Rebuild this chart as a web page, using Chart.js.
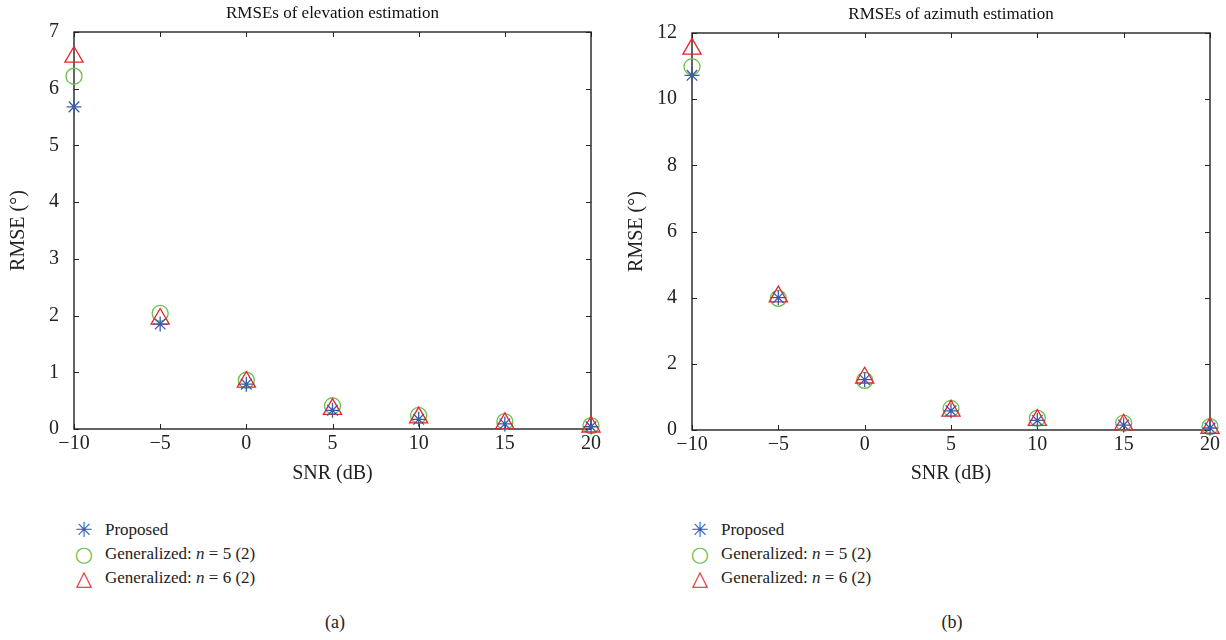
<!DOCTYPE html>
<html>
<head>
<meta charset="utf-8">
<script src="https://cdn.jsdelivr.net/npm/chart.js@4.4.1/dist/chart.umd.min.js"></script>
<style>
  body { margin: 0; width: 1226px; height: 640px; background: #fff; position: relative; overflow: hidden;
         font-family: 'Liberation Serif', 'DejaVu Serif', serif; color: #222; }
  .panel { position: absolute; top: 0; width: 613px; height: 500px; }
  .legend { position: absolute; top: 518px; font-size: 17px; }
  .legend div { height: 24px; line-height: 24px; white-space: nowrap; }
  .mk { display: inline-block; width: 20px; text-align: center; margin-right: 11px; font-size: 21px;
        vertical-align: top; font-family: 'DejaVu Sans', sans-serif; }
  .cap { position: absolute; top: 612px; font-size: 18px; width: 40px; text-align: center; }
</style>
</head>
<body>
<div class="panel" style="left:0"><canvas id="elevChart" width="613" height="500"></canvas></div>
<div class="panel" style="left:613px"><canvas id="azimChart" width="613" height="500"></canvas></div>

<div class="legend" style="left:74px" id="legendA"></div>
<div class="legend" style="left:690px" id="legendB"></div>
<div class="cap" style="left:315px">(a)</div>
<div class="cap" style="left:932px">(b)</div>

<script>
// SNR values (dB) on the x axis
const snr = [-10, -5, 0, 5, 10, 15, 20];
const xTickLabels = ['\u221210', '\u22125', '0', '5', '10', '15', '20'];

// elevation RMSE (deg)
const proposedElev = [5.68, 1.85, 0.79, 0.33, 0.17, 0.09, 0.04];
const gen5Elev     = [6.22, 2.04, 0.86, 0.41, 0.24, 0.13, 0.06];
const gen6Elev     = [6.56, 1.94, 0.83, 0.35, 0.20, 0.10, 0.04];
const elevTicks = [0, 1, 2, 3, 4, 5, 6, 7];

// azimuth RMSE (deg)
const proposedAzim = [10.72, 4.00, 1.52, 0.58, 0.29, 0.15, 0.06];
const gen5Azim     = [10.98, 3.98, 1.50, 0.65, 0.36, 0.21, 0.10];
const gen6Azim     = [11.52, 4.03, 1.58, 0.58, 0.30, 0.16, 0.06];
const azimTicks = [0, 2, 4, 6, 8, 10, 12];

const seriesNames = ['Proposed', 'Generalized: <i>n</i> = 5 (2)', 'Generalized: <i>n</i> = 6 (2)'];
const colors = ['#3b5aa8', '#6abf4b', '#e8262d'];
const FONT = "'Liberation Serif', 'DejaVu Serif', serif";

// box with inward ticks on all four sides, like the original figure
const framePlugin = {
  id: 'frame',
  beforeDatasetsDraw(chart) {
    const { ctx, chartArea: a, scales: { x, y } } = chart;
    ctx.save();
    ctx.strokeStyle = '#222';
    ctx.lineWidth = 1.4;
    ctx.strokeRect(a.left, a.top, a.right - a.left, a.bottom - a.top);
    ctx.lineWidth = 1;
    ctx.beginPath();
    x.ticks.forEach((t, i) => {
      const px = Math.round(x.getPixelForTick(i)) + 0.5;
      ctx.moveTo(px, a.bottom); ctx.lineTo(px, a.bottom - 5);
      ctx.moveTo(px, a.top); ctx.lineTo(px, a.top + 5);
    });
    y.ticks.forEach((t, i) => {
      const py = Math.round(y.getPixelForTick(i)) + 0.5;
      ctx.moveTo(a.left, py); ctx.lineTo(a.left + 5, py);
      ctx.moveTo(a.right, py); ctx.lineTo(a.right - 5, py);
    });
    ctx.stroke();
    ctx.restore();
  }
};

function points(vals) {
  return snr.map((s, i) => ({ x: s, y: vals[i] }));
}

function makeChart(id, title, series, yTicks, opts) {
  const styles = [
    { pointStyle: 'star', pointRadius: 7.5, order: 0 },
    { pointStyle: 'circle', pointRadius: 8, order: 2 },
    { pointStyle: 'triangle', pointRadius: 10.5, order: 1 }
  ];
  return new Chart(document.getElementById(id), {
    type: 'scatter',
    data: {
      datasets: series.map((vals, i) => ({
        label: seriesNames[i].replace(/<[^>]+>/g, ''),
        data: points(vals),
        pointStyle: styles[i].pointStyle,
        pointRadius: styles[i].pointRadius,
        pointHoverRadius: styles[i].pointRadius,
        order: styles[i].order,
        borderColor: colors[i],
        backgroundColor: 'rgba(0,0,0,0)',
        borderWidth: 1.3,
        showLine: false,
        clip: false
      }))
    },
    options: {
      responsive: false,
      animation: false,
      devicePixelRatio: 1,
      layout: { padding: { left: 0, right: opts.padRight, top: 0, bottom: 0 } },
      plugins: {
        legend: { display: false },
        tooltip: { enabled: false },
        title: {
          display: true, text: title, fullSize: false, color: '#111',
          font: { family: FONT, size: 17, weight: 'normal' },
          padding: { top: opts.titleTop, bottom: 8.6 }
        }
      },
      scales: {
        x: {
          type: 'linear', min: snr[0], max: snr[snr.length - 1],
          grid: { display: false, drawTicks: false },
          border: { display: false },
          ticks: {
            stepSize: 5, padding: 3, color: '#222', maxRotation: 0,
            font: { family: FONT, size: 20 },
            callback: (v, i) => xTickLabels[i]
          },
          title: {
            display: true, text: 'SNR (dB)', color: '#222',
            font: { family: FONT, size: 20 }, padding: { top: 0, bottom: 14 }
          },
          afterFit: s => { s.height = opts.xHeight; }
        },
        y: {
          min: yTicks[0], max: yTicks[yTicks.length - 1],
          grid: { display: false, drawTicks: false },
          border: { display: false },
          ticks: {
            stepSize: yTicks[1] - yTicks[0], padding: 15, color: '#222',
            font: { family: FONT, size: 20 }
          },
          title: {
            display: true, text: 'RMSE (°)', color: '#222',
            font: { family: FONT, size: 20 }, padding: { top: opts.yTitlePad, bottom: 0 }
          },
          afterFit: s => { s.width = opts.yWidth; }
        }
      }
    },
    plugins: [framePlugin]
  });
}

makeChart('elevChart', 'RMSEs of elevation estimation', [proposedElev, gen5Elev, gen6Elev], elevTicks,
  { padRight: 22, titleTop: 3, xHeight: 71, yWidth: 74, yTitlePad: 7 });
makeChart('azimChart', 'RMSEs of azimuth estimation', [proposedAzim, gen5Azim, gen6Azim], azimTicks,
  { padRight: 16, titleTop: 4, xHeight: 70, yWidth: 79, yTitlePad: 12 });

// legends under each panel
const markers = ['\u2733', '\u25CB', '\u25B3'];
['legendA', 'legendB'].forEach(id => {
  document.getElementById(id).innerHTML = seriesNames.map((name, i) =>
    `<div><span class="mk" style="color:${colors[i]}">${markers[i]}</span>${name}</div>`
  ).join('');
});
</script>
</body>
</html>
